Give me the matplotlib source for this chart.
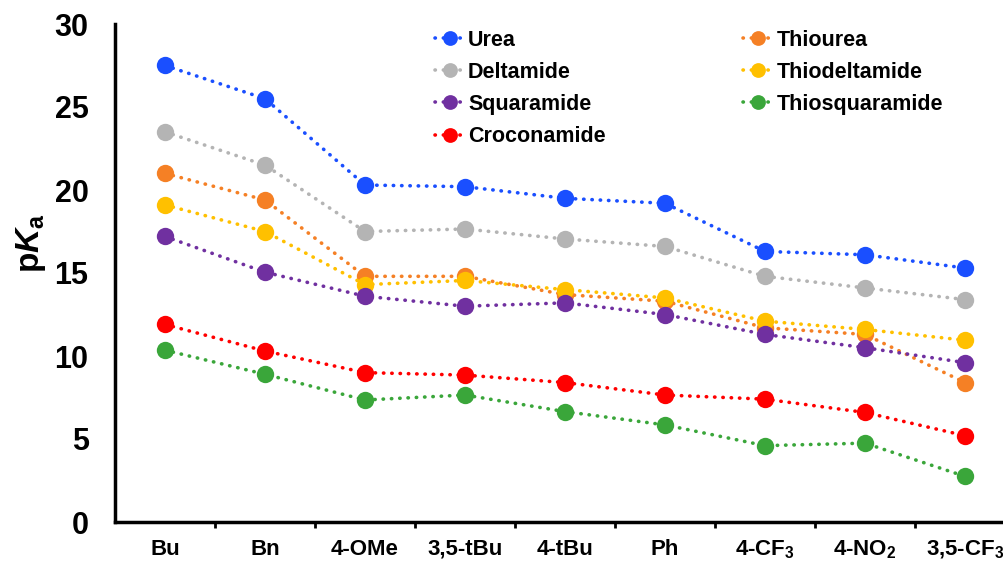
#!/usr/bin/env python3
"""pKa of urea-type receptors vs. substituent."""

import matplotlib

matplotlib.use("Agg")
import matplotlib.pyplot as plt
import numpy as np

substituents = ["Bu", "Bn", "4-OMe", "3,5-tBu", "4-tBu", "Ph",
                r"4-CF$_3$", r"4-NO$_2$", r"3,5-CF$_3$"]

urea = [27.5, 25.5, 20.3, 20.2, 19.5, 19.2, 16.3, 16.1, 15.3]
deltamide = [23.5, 21.5, 17.5, 17.65, 17.05, 16.6, 14.8, 14.1, 13.4]
squaramide = [17.2, 15.05, 13.6, 13.0, 13.2, 12.5, 11.3, 10.5, 9.6]
croconamide = [11.9, 10.3, 9.0, 8.85, 8.4, 7.65, 7.4, 6.6, 5.2]
thiourea = [21.0, 19.4, 14.8, 14.8, 13.7, 13.3, 11.7, 11.3, 8.4]
thiodeltamide = [19.1, 17.5, 14.3, 14.55, 14.0, 13.5, 12.1, 11.6, 10.95]
thiosquaramide = [10.35, 8.9, 7.35, 7.65, 6.65, 5.85, 4.6, 4.75, 2.75]

series = [
    ("Urea", urea, "#1A4FFF", 3),
    ("Deltamide", deltamide, "#B4B4B4", 3),
    ("Squaramide", squaramide, "#7030A0", 6),
    ("Croconamide", croconamide, "#FF0000", 3),
    ("Thiourea", thiourea, "#F58025", 4),
    ("Thiodeltamide", thiodeltamide, "#FFC000", 5),
    ("Thiosquaramide", thiosquaramide, "#3AA63A", 3),
]

plt.rcParams.update({
    "font.family": "Liberation Sans",
    "font.weight": "bold",
    "mathtext.fontset": "custom",
    "mathtext.rm": "Liberation Sans:bold",
    "mathtext.it": "Liberation Sans:bold:italic",
    "mathtext.bf": "Liberation Sans:bold",
})

fig = plt.figure(figsize=(10.04, 5.66), dpi=100)
ax = fig.add_axes([115 / 1004, 44 / 566, 900 / 1004, 498 / 566])

x = np.arange(len(substituents))
for name, values, color, z in series:
    ax.plot(x, values, color=color, lw=2.6, linestyle=(0, (0.1, 2.2)),
            dash_capstyle="round", marker="o", markersize=12.5,
            markeredgewidth=0, label=name, zorder=z)

ax.set_xlim(-0.5, len(substituents) - 0.5)
ax.set_ylim(0, 30)
ax.set_yticks(range(0, 31, 5))
ax.tick_params(axis="y", length=0, labelsize=22, pad=19)
ax.set_xticks(x, substituents)
ax.set_xticks(np.arange(0.5, len(substituents) - 0.5), minor=True)
ax.tick_params(axis="x", which="major", length=0, labelsize=16, pad=12)
ax.tick_params(axis="x", which="minor", length=4, width=2, direction="out")
for side in ("top", "right"):
    ax.spines[side].set_visible(False)
for side in ("left", "bottom"):
    ax.spines[side].set_linewidth(2.5)
ax.set_ylabel(r"$\mathrm{p}\mathit{K}_\mathrm{a}$", fontsize=24)
ax.yaxis.set_label_coords(-0.075, 0.56)

ax.legend(loc="upper left", bbox_to_anchor=(426 / 1004, 1 - 21 / 566),
          bbox_transform=fig.transFigure, ncol=2, frameon=False,
          fontsize=15.5, handlelength=1.4, handletextpad=0.15,
          columnspacing=6.4, labelspacing=0.52, borderaxespad=0,
          markerscale=0.85)

fig.savefig("out.png", dpi=100, facecolor="white")
